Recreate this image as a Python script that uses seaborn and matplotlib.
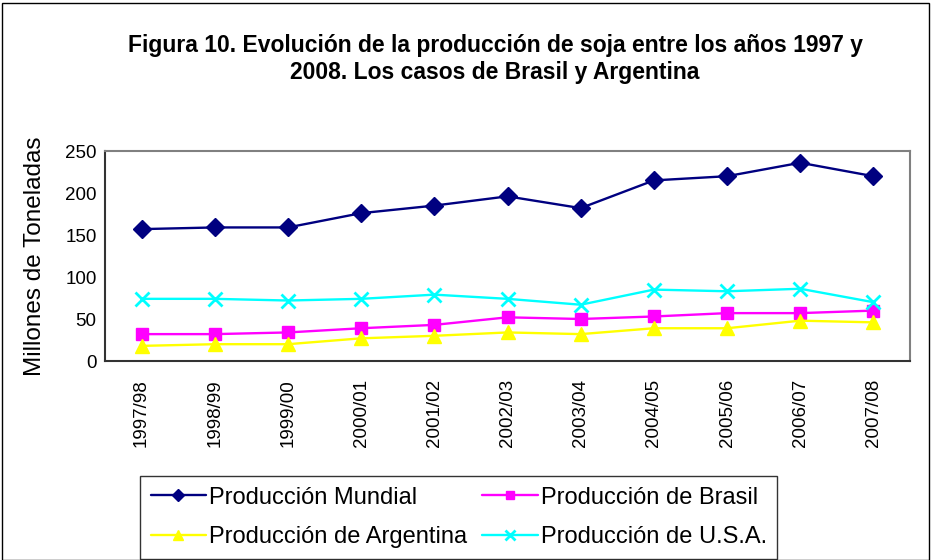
import pandas as pd
import matplotlib.pyplot as plt
import seaborn as sns
from matplotlib.patches import Rectangle

# Datos (millones de toneladas)
campanas = ['1997/98', '1998/99', '1999/00', '2000/01', '2001/02', '2002/03',
            '2003/04', '2004/05', '2005/06', '2006/07', '2007/08']
mundial = [157, 159, 159, 176, 185, 196, 182, 215, 220, 236, 220]
brasil = [32, 32, 34, 39, 43, 52, 50, 53, 57, 57, 60]
argentina = [18, 20, 20, 27, 30, 34, 32, 39, 39, 48, 46]
usa = [74, 74, 72, 74, 79, 74, 67, 85, 83, 86, 70]

series = [
    ('Producción Mundial', mundial, '#000080', 'D', 9),
    ('Producción de Brasil', brasil, '#FF00FF', 's', 9),
    ('Producción de Argentina', argentina, '#FFFF00', '^', 10),
    ('Producción de U.S.A.', usa, '#00FFFF', 'x', 10),
]

sns.set_style('white')
plt.rcParams['font.family'] = ['Liberation Sans', 'DejaVu Sans']
plt.rcParams['text.color'] = 'black'
plt.rcParams['axes.labelcolor'] = 'black'
plt.rcParams['xtick.color'] = 'black'
plt.rcParams['ytick.color'] = 'black'

fig = plt.figure(figsize=(9.32, 5.6), dpi=100)
ax = fig.add_axes([105 / 932, 1 - 361 / 560, 805 / 932, 210 / 560])

xpos = list(range(len(campanas)))
for name, vals, color, marker, ms in series:
    df = pd.DataFrame({'x': xpos, 'y': vals})
    sns.lineplot(data=df, x='x', y='y', ax=ax, color=color, marker=marker,
                 markersize=ms, markeredgecolor=color,
                 markeredgewidth=2 if marker == 'x' else 1,
                 linewidth=1.7, label=name, legend=False)

ax.set_xlim(-0.5, len(campanas) - 0.5)
ax.set_ylim(0, 250)
ax.set_yticks(range(0, 251, 50))
ax.set_xticks(xpos)
ax.set_xticklabels(campanas, rotation=90, fontsize=13.5)
ax.set_xticks([i - 0.5 for i in range(len(campanas) + 1)], minor=True)
ax.tick_params(axis='x', which='major', length=0, pad=13)
ax.tick_params(axis='x', which='minor', length=4, width=1, direction='out', color='#333333')
ax.tick_params(axis='y', length=4, width=1, direction='out', color='#333333',
               labelsize=13.5, pad=2)
ax.set_xlabel('')
ax.set_ylabel('Millones de Toneladas', fontsize=17.5, labelpad=14)

for s in ['left', 'bottom']:
    ax.spines[s].set_color('#333333')
    ax.spines[s].set_linewidth(1.5)
for s in ['top', 'right']:
    ax.spines[s].set_color('#808080')
    ax.spines[s].set_linewidth(1.5)

fig.text(495 / 932, 1 - 59 / 560,
         'Figura 10. Evolución de la producción de soja entre los años 1997 y\n'
         '2008. Los casos de Brasil y Argentina',
         ha='center', va='center', fontsize=16.5, fontweight='bold', linespacing=1.25)

# orden por filas como en el original
handles, labels = ax.get_legend_handles_labels()
order = [0, 2, 1, 3]
leg = fig.legend([handles[i] for i in order], [labels[i] for i in order], ncol=2,
                 loc='upper left', bbox_to_anchor=(140 / 932, 1 - 476 / 560),
                 fontsize=17, frameon=True, fancybox=False,
                 edgecolor='black', handlelength=2.35, markerscale=0.65,
                 borderaxespad=0, borderpad=0.45, columnspacing=0.65,
                 handletextpad=0.12, labelspacing=0.75)
leg.get_frame().set_linewidth(1)

fig.patches.append(Rectangle((2 / 932, 0.0), 927 / 932, 557 / 560,
                             transform=fig.transFigure, fill=False,
                             edgecolor='black', linewidth=1))

fig.savefig('out.png', dpi=100)
